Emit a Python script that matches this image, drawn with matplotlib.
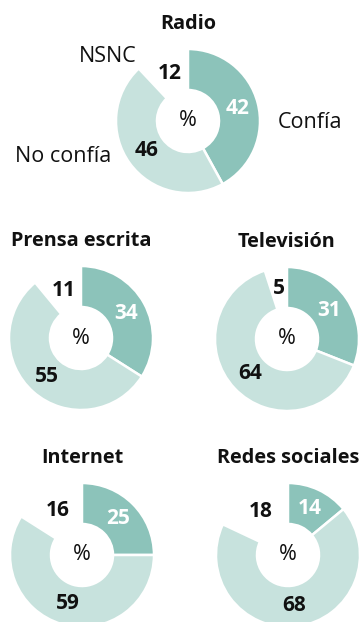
import matplotlib.pyplot as plt
import numpy as np

plt.rcParams['font.family'] = ['Open Sans', 'DejaVu Sans']

# Confianza en los medios (%)
medios = ['Radio', 'Prensa escrita', 'Televisión', 'Internet', 'Redes sociales']
confia = [42, 34, 31, 25, 14]
no_confia = [46, 55, 64, 59, 68]
nsnc = [12, 11, 5, 16, 18]
categorias = ['Confía', 'No confía', 'NSNC']

W, H = 361, 622
fig = plt.figure(figsize=(W / 100, H / 100), dpi=100)
ax = fig.add_axes([0, 0, 1, 1])

# donut centres in pixels (x from left, y from top)
centros = [(188, 121), (81, 338), (287, 339), (82, 555), (288, 555)]
R = 72
ANCHO = 41
R_ETIQ = 51
C_OSCURO = '#8cc3ba'
C_CLARO = '#c7e2dd'
NEGRO = '#111111'
FS_TIT = 14.3
FS_NUM = 15
FS_REG = 15.5

for i, medio in enumerate(medios):
    cx, cy = centros[i][0], H - centros[i][1]
    valores = [confia[i], no_confia[i], nsnc[i]]
    wedges, _ = ax.pie(valores, colors=[C_OSCURO, C_CLARO, 'none'],
                       startangle=90, counterclock=False, radius=R,
                       center=(cx, cy),
                       wedgeprops=dict(width=ANCHO, edgecolor='white',
                                       linewidth=1.8))
    wedges[2].set_visible(False)

    # value labels at the middle of each slice
    total = sum(valores)
    acum = 0
    for j, v in enumerate(valores):
        ang = np.deg2rad(360 * (acum + v / 2) / total)
        acum += v
        x = cx + R_ETIQ * np.sin(ang)
        y = cy + R_ETIQ * np.cos(ang)
        ax.text(x, y, f'{v}', ha='center', va='center', fontsize=FS_NUM,
                fontweight='bold', color='white' if j == 0 else NEGRO)

    ax.text(cx, cy, '%', ha='center', va='center', fontsize=FS_REG,
            color=NEGRO)
    ax.text(cx, cy + 97, medio, ha='center', va='center', fontsize=FS_TIT,
            fontweight='bold', color=NEGRO)

# category names around the first donut
cx0, cy0 = centros[0][0], H - centros[0][1]
ax.text(cx0 + 122, cy0 - 1, categorias[0], ha='center', va='center',
        fontsize=FS_REG, color=NEGRO)
ax.text(cx0 - 125, cy0 - 35, categorias[1], ha='center', va='center',
        fontsize=FS_REG, color=NEGRO)
ax.text(cx0 - 80, cy0 + 64, categorias[2], ha='center', va='center',
        fontsize=FS_REG, color=NEGRO)

ax.set_xlim(0, W)
ax.set_ylim(0, H)
ax.set_aspect('equal')
ax.axis('off')

fig.savefig('out.png', dpi=100, facecolor='white')
